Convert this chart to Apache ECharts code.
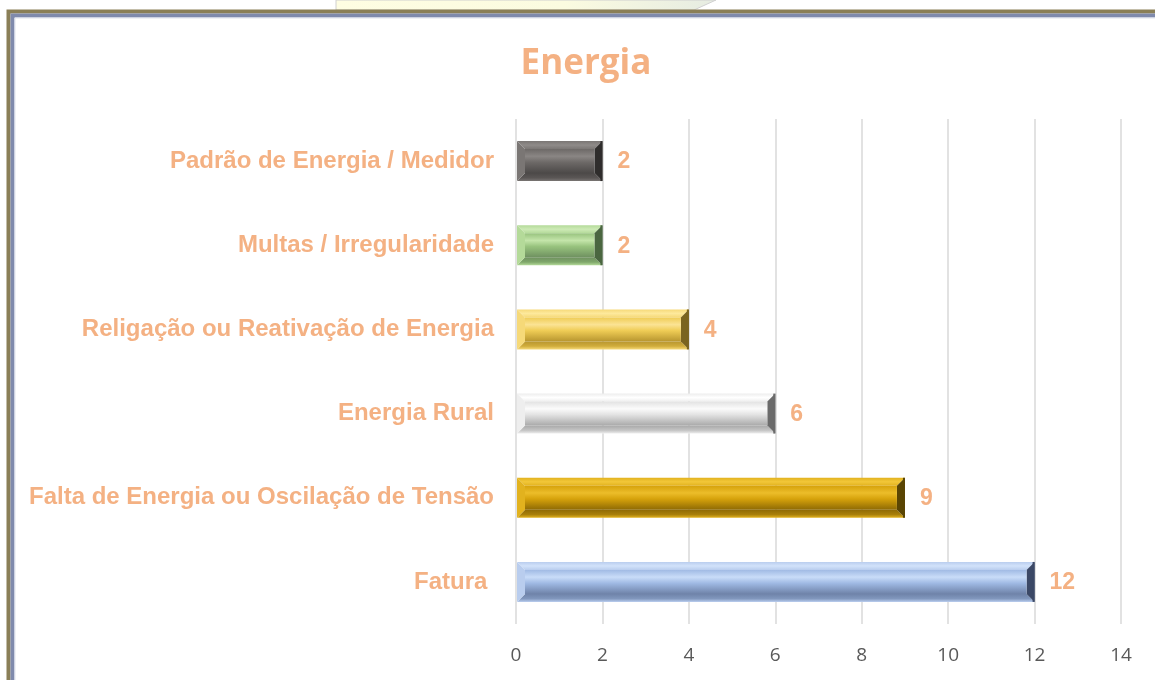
<!DOCTYPE html>
<html>
<head>
<meta charset="utf-8">
<script src="https://cdn.jsdelivr.net/npm/echarts@6/dist/echarts.min.js"></script>
<style>
html,body{margin:0;padding:0;background:#fff;}
#chart{width:1155px;height:680px;}
</style>
</head>
<body>
<div id="chart"></div>
<script>
// Data (top to bottom)
var categories = ['Padrão de Energia / Medidor', 'Multas / Irregularidade', 'Religação ou Reativação de Energia', 'Energia Rural', 'Falta de Energia ou Oscilação de Tensão', 'Fatura '];
var values = [2, 2, 4, 6, 9, 12];
var xTicks = [0, 2, 4, 6, 8, 10, 12, 14];
var titleText = 'Energia';

// Bevel palettes per bar: [topBevel, leftBevel, bottomBevel, rightBevel, faceTop, faceStripe, faceBottom]
var palettes = [
  ['#8f8b89', '#7a7674', '#4c4948', '#2f2d2c', '#6d6967', '#8a8684', '#5a5655'],
  ['#cdeab6', '#b4da99', '#6f9160', '#4a6640', '#98c37e', '#c4e5aa', '#7fa76a'],
  ['#fde99c', '#f6d978', '#b8962f', '#7a6420', '#efcc55', '#fbe394', '#d1ad3c'],
  ['#ffffff', '#eeeeee', '#a9a9a9', '#6b6b6b', '#e2e2e2', '#fbfbfb', '#c5c5c5'],
  ['#f2c739', '#e2b21e', '#8e6a05', '#5a4503', '#d6a20b', '#ecbd2a', '#a9800a'],
  ['#d2e2fa', '#b9cdee', '#6f83a9', '#3b4866', '#a0bae4', '#c9dcf8', '#8197bd']
];

var chart = echarts.init(document.getElementById('chart'));

var seriesData = values.map(function (v, i) { return [v, i]; });

var option = {
  backgroundColor: '#ffffff',
  animation: false,
  title: {
    text: titleText,
    left: 581,
    top: 42,
    textAlign: 'center',
    textStyle: { color: '#F4B183', fontSize: 35, fontWeight: 'bold', fontFamily: 'Open Sans' }
  },
  grid: { left: 516, right: 34, top: 119, bottom: 56, containLabel: false },
  xAxis: {
    type: 'value',
    min: 0, max: 14, interval: 2,
    axisLine: { show: false },
    axisTick: { show: false },
    splitLine: { show: true, lineStyle: { color: '#d9d9d9', width: 1.5 } },
    axisLabel: {
      margin: 22, color: '#595959', fontSize: 19, fontFamily: 'Open Sans',
      formatter: function (v) { return xTicks.indexOf(v) >= 0 ? String(v) : ''; }
    }
  },
  yAxis: {
    type: 'category',
    data: categories,
    inverse: true,
    axisLine: { show: false },
    axisTick: { show: false },
    axisLabel: {
      margin: 22, color: '#F4B183', fontSize: 24, fontWeight: 'bold', fontFamily: 'Liberation Sans'
    }
  },
  graphic: [
    // top decorative shape
    { type: 'polygon', shape: { points: [[336, 0], [716, 0], [694, 10], [336, 10]] },
      style: { fill: new echarts.graphic.LinearGradient(0, 0, 1, 0, [{ offset: 0, color: '#fefde2' }, { offset: 0.6, color: '#fbfbe0' }, { offset: 1, color: '#e6ece2' }]), stroke: '#d0d0d0', lineWidth: 1 }, z: 10 },
    // frame
    { type: 'rect', shape: { x: 8.5, y: 11.5, width: 1160, height: 700 }, style: { fill: 'none', stroke: '#8a7f57', lineWidth: 4 }, z: 11 },
    { type: 'rect', shape: { x: 12.5, y: 15.5, width: 1160, height: 700 }, style: { fill: 'none', stroke: '#7f8aac', lineWidth: 4 }, z: 11 },
    { type: 'rect', shape: { x: 15, y: 18, width: 1160, height: 700 }, style: { fill: 'none', stroke: '#dfe3ee', lineWidth: 1 }, z: 11 }
  ],
  series: [{
    type: 'custom',
    data: seriesData,
    encode: { x: 0, y: 1 },
    renderItem: function (params, api) {
      var v = api.value(0);
      var idx = api.value(1);
      var end = api.coord([v, idx]);
      var start = api.coord([0, idx]);
      var h = api.size([0, 1])[1] * 0.475;
      var x0 = start[0] + 1, x1 = end[0];
      var yt = end[1] - h / 2, yb = end[1] + h / 2;
      var b = 8;
      var p = palettes[idx];
      return {
        type: 'group',
        children: [
          { type: 'polygon', shape: { points: [[x0, yt], [x1, yt], [x1 - b, yt + b], [x0 + b, yt + b]] },
            style: { fill: new echarts.graphic.LinearGradient(0, 0, 0, 1, [{ offset: 0, color: p[1] }, { offset: 0.5, color: p[0] }, { offset: 1, color: p[1] }]) } },
          { type: 'polygon', shape: { points: [[x0, yb], [x1, yb], [x1 - b, yb - b], [x0 + b, yb - b]] },
            style: { fill: new echarts.graphic.LinearGradient(0, 0, 0, 1, [{ offset: 0, color: p[2] }, { offset: 0.6, color: p[6] }, { offset: 1, color: p[1] }]) } },
          { type: 'polygon', shape: { points: [[x0, yt], [x0 + b, yt + b], [x0 + b, yb - b], [x0, yb]] },
            style: { fill: p[1] } },
          { type: 'polygon', shape: { points: [[x1, yt], [x1 - b, yt + b], [x1 - b, yb - b], [x1, yb]] },
            style: { fill: p[3] } },
          { type: 'rect', shape: { x: x0 + b, y: yt + b, width: Math.max(0, x1 - x0 - 2 * b), height: yb - yt - 2 * b },
            style: { fill: new echarts.graphic.LinearGradient(0, 0, 0, 1, [
              { offset: 0, color: p[4] }, { offset: 0.3, color: p[5] }, { offset: 0.55, color: p[4] }, { offset: 1, color: p[2] }]) } },
          { type: 'rect', shape: { x: x1 - 2, y: yt, width: 2, height: yb - yt }, style: { fill: p[3] } },
          { type: 'text', x: x1 + 15, y: end[1] + 1,
            style: { text: String(v), fill: '#F4B183', font: 'bold 23px "Liberation Sans"', verticalAlign: 'middle', align: 'left' } }
        ]
      };
    }
  }]
};

chart.setOption(option);
</script>
</body>
</html>
